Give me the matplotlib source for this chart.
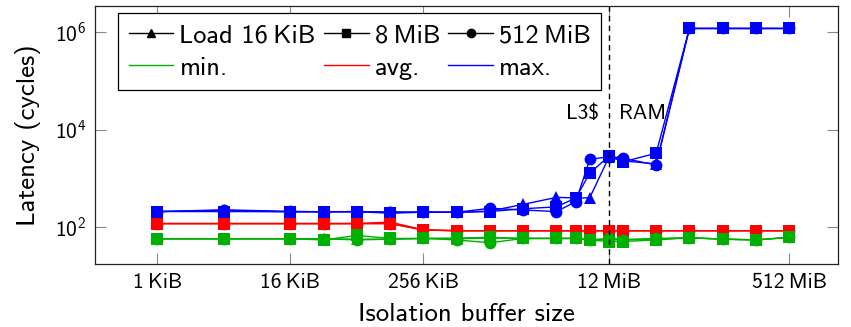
import matplotlib
matplotlib.use("Agg")
import matplotlib.pyplot as plt
from matplotlib.lines import Line2D
from matplotlib.ticker import FixedLocator, FixedFormatter, NullLocator, LogFormatterSciNotation

plt.rcParams["font.family"] = ["cmss10", "DejaVu Sans"]
plt.rcParams["mathtext.fontset"] = "custom"
plt.rcParams["mathtext.rm"] = "cmss10"
plt.rcParams["mathtext.it"] = "cmss10"
plt.rcParams["axes.unicode_minus"] = False
plt.rcParams["axes.formatter.use_mathtext"] = True

# Isolation buffer sizes (KiB)
buf_kib = [1, 4, 16, 32, 64, 128, 256, 512, 1024, 2048, 4096, 6144, 8192,
           12288, 16384, 32768, 65536, 131072, 262144, 524288]

# Latency in cycles, per load size
max_16k = [210, 222, 208, 208, 210, 205, 205, 203, 215, 295, 410, 400, 400,
           2800, 2300, 2000, 1.2e6, 1.2e6, 1.2e6, 1.2e6]
max_8m = [210, 210, 208, 208, 209, 194, 204, 203, 210, 240, 262, 400, 1280,
          2900, 2200, 3300, 1.2e6, 1.2e6, 1.2e6, 1.2e6]
max_512m = [210, 228, 212, 208, 208, 205, 204, 203, 245, 226, 210, 335, 2470,
            2800, 2600, 1900, 1.2e6, 1.2e6, 1.2e6, 1.2e6]

avg_16k = [119, 119, 119, 119, 119, 128, 88, 85, 85, 85, 85, 85, 85,
           85, 85, 85, 85, 85, 85, 85]
avg_8m = [119, 119, 119, 119, 119, 119, 88, 85, 85, 85, 85, 85, 85,
          85, 85, 85, 85, 85, 85, 85]
avg_512m = [119, 119, 119, 119, 119, 119, 88, 85, 85, 85, 85, 85, 85,
            85, 85, 85, 85, 85, 85, 85]

min_16k = [58, 58, 58, 58, 57, 57, 59, 58, 60, 59, 59, 59, 56,
           56, 55, 57, 61, 57, 55, 62]
min_8m = [58, 58, 58, 55, 68, 59, 59, 60, 62, 59, 59, 59, 55,
          51, 51, 55, 61, 57, 55, 62]
min_512m = [58, 58, 58, 58, 55, 57, 59, 55, 48, 59, 59, 59, 55,
            59, 56, 59, 61, 57, 55, 62]

xtick_kib = [1, 16, 256, 12288, 524288]
xtick_labels = ["1\u2009KiB", "16\u2009KiB", "256\u2009KiB", "12\u2009MiB", "512\u2009MiB"]
l3_kib = 12288

BLUE = "#0000ff"
RED = "#ff0000"
GREEN = "#00b000"

fig = plt.figure(figsize=(8.51, 3.27), dpi=100)
ax = fig.add_axes([95 / 851, 1 - 264.3 / 327, (838 - 95) / 851, (264.3 - 6) / 327])

series = [
    (max_512m, BLUE, "o"), (max_8m, BLUE, "s"), (max_16k, BLUE, "^"),
    (avg_512m, RED, "o"), (avg_8m, RED, "s"), (avg_16k, RED, "^"),
    (min_512m, GREEN, "o"), (min_8m, GREEN, "s"), (min_16k, GREEN, "^"),
]
for vals, col, mk in series:
    ax.plot(buf_kib, vals, color=col, marker=mk, markersize=8.5 if mk != "^" else 8,
            linewidth=1.0, markeredgewidth=0)

ax.set_xscale("log", base=2)
ax.set_yscale("log")
ax.set_xlim(2 ** -1.88, 2 ** 20.47)
ax.set_ylim(10 ** 1.24, 10 ** 6.54)

ax.xaxis.set_major_locator(FixedLocator(xtick_kib))
ax.xaxis.set_major_formatter(FixedFormatter(xtick_labels))
ax.xaxis.set_minor_locator(NullLocator())
ax.yaxis.set_major_locator(FixedLocator([1e2, 1e4, 1e6]))
ax.yaxis.set_major_formatter(LogFormatterSciNotation())
ax.yaxis.set_minor_locator(NullLocator())

ax.tick_params(axis="both", which="major", direction="in", length=8, width=0.8,
               color="#888888", labelsize=15.5, top=True, right=True, pad=6)
for sp in ax.spines.values():
    sp.set_linewidth(0.9)
    sp.set_color("#222222")

ax.axvline(l3_kib, color="black", linestyle=(0, (4, 3)), linewidth=1.0)
ax.annotate("L3$", xy=(l3_kib, 10 ** 4.34), xytext=(-7, 0), textcoords="offset points",
            ha="right", va="center", fontsize=15.5, parse_math=False)
ax.annotate("RAM", xy=(l3_kib, 10 ** 4.34), xytext=(7, 0), textcoords="offset points",
            ha="left", va="center", fontsize=15.5)

ax.set_xlabel("Isolation buffer size", fontsize=19.3, labelpad=8)
ax.set_ylabel("Latency (cycles)", fontsize=19.3, labelpad=10)

handles = [
    Line2D([], [], color="black", marker="^", markersize=6, linewidth=1.0),
    Line2D([], [], color=GREEN, linewidth=1.0),
    Line2D([], [], color="black", marker="s", markersize=6, linewidth=1.0),
    Line2D([], [], color=RED, linewidth=1.0),
    Line2D([], [], color="black", marker="o", markersize=6, linewidth=1.0),
    Line2D([], [], color=BLUE, linewidth=1.0),
]
labels = ["Load 16\u2009KiB", "min.", "8\u2009MiB", "avg.", "512\u2009MiB", "max."]
leg = ax.legend(handles, labels, ncol=3, loc="upper left",
                bbox_to_anchor=((118 - 95) / 743, 1 - 7 / 258.3),
                borderaxespad=0, fontsize=19, frameon=True, fancybox=False,
                edgecolor="black", framealpha=1, handlelength=1.7,
                handletextpad=0.23, columnspacing=0.3, labelspacing=0.35,
                borderpad=0.4)
leg.get_frame().set_linewidth(0.9)

fig.savefig("out.png", dpi=100)
